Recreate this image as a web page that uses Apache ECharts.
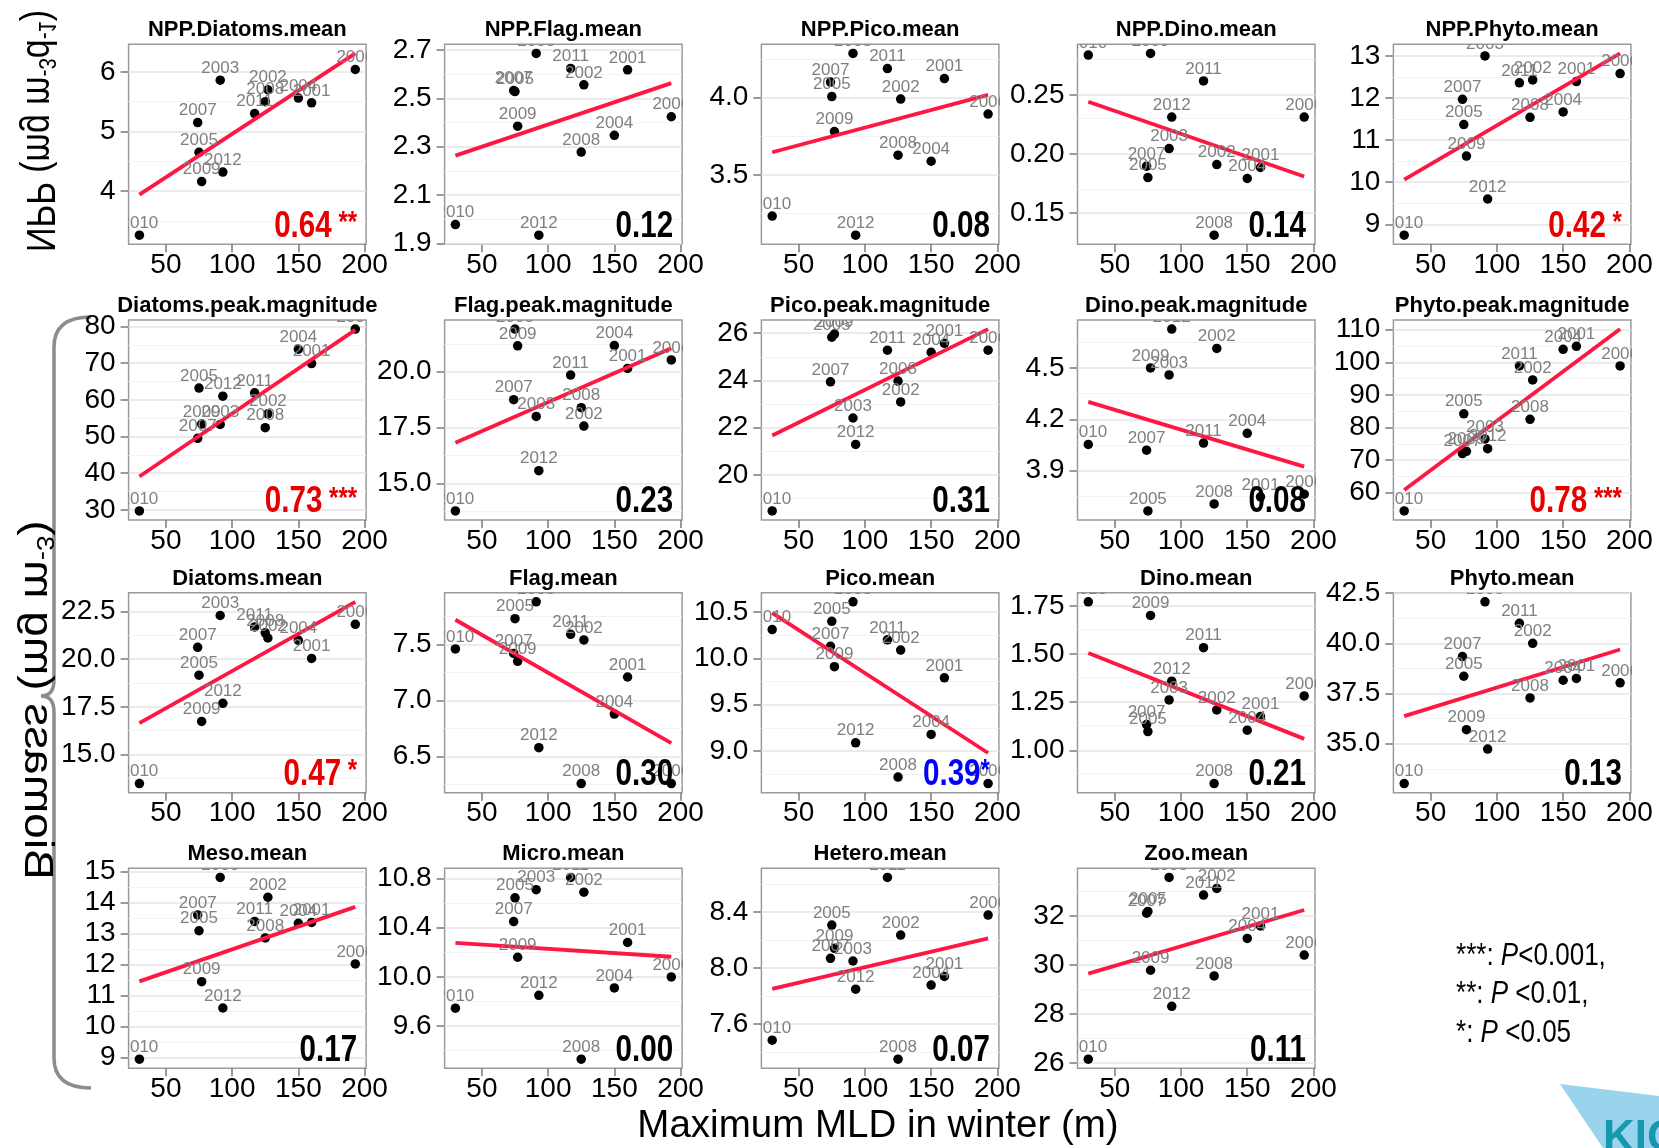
<!DOCTYPE html>
<html>
<head>
<meta charset="utf-8">
<script src="https://cdn.jsdelivr.net/npm/echarts@6/dist/echarts.min.js"></script>
<style>html,body{margin:0;padding:0;background:#fff}#c{width:1659px;height:1148px}</style>
</head>
<body>
<div id="c"></div>
<script>
// ---------- data ----------
const years = [2001, 2002, 2003, 2004, 2005, 2006, 2007, 2008, 2009, 2010, 2011, 2012];
const mld = [160, 127, 91, 150, 75, 193, 74, 125, 77, 30, 117, 93]; // Maximum MLD in winter (m)

const nppDiatomsMean = [5.48, 5.70, 5.86, 5.56, 4.65, 6.04, 5.15, 5.50, 4.16, 3.26, 5.30, 4.32];
const nppFlagMean    = [2.618, 2.556, 2.686, 2.347, 2.528, 2.424, 2.532, 2.278, 2.385, 1.978, 2.624, 1.934];
const nppPicoMean    = [4.122, 3.99, 4.285, 3.588, 4.006, 3.893, 4.10, 3.627, 3.78, 3.234, 4.187, 3.11];
const nppDinoMean    = [0.1885, 0.1910, 0.2045, 0.1792, 0.180, 0.2312, 0.1896, 0.1312, 0.2851, 0.2837, 0.2618, 0.2312];
const nppPhytoMean   = [12.39, 12.43, 13.0, 11.67, 11.37, 12.58, 11.97, 11.54, 10.62, 8.74, 12.36, 9.60];
const diatomsPeak    = [69.9, 56.2, 53.3, 73.8, 63.2, 79.3, 49.5, 52.4, 53.4, 29.7, 61.9, 61.0];
const flagPeak       = [20.15, 17.57, 18.0, 21.17, 21.91, 20.53, 18.75, 18.39, 21.16, 13.77, 19.85, 15.57];
const picoPeak       = [25.57, 23.09, 22.41, 25.19, 25.83, 25.28, 23.94, 23.97, 25.96, 18.48, 25.28, 21.29];
const dinoPeak       = [3.747, 4.614, 4.459, 4.118, 3.665, 3.763, 4.02, 3.706, 4.50, 4.053, 4.061, 4.727];
const phytoPeak      = [104.9, 94.6, 76.5, 104.0, 84.2, 98.9, 72.0, 82.5, 72.7, 54.4, 98.9, 73.5];
const diatomsMean    = [20.04, 21.11, 22.29, 20.99, 19.16, 21.83, 20.62, 21.38, 16.73, 13.47, 21.69, 17.68];
const flagMean       = [7.21, 7.54, 7.88, 6.88, 7.73, 6.26, 7.42, 6.26, 7.35, 7.46, 7.59, 6.58];
const picoMean       = [9.79, 10.09, 10.61, 9.18, 10.40, 8.65, 10.13, 8.72, 9.91, 10.31, 10.20, 9.09];
const dinoMean       = [1.176, 1.21, 1.262, 1.105, 1.098, 1.283, 1.134, 0.828, 1.70, 1.771, 1.533, 1.359];
const phytoMean      = [38.25, 40.0, 42.07, 38.16, 38.36, 38.03, 39.34, 37.28, 35.70, 33.01, 41.0, 34.73];
const mesoMean       = [13.36, 14.17, 14.81, 13.33, 13.09, 12.02, 13.6, 12.86, 11.45, 8.95, 13.39, 10.6];
const microMean      = [10.28, 10.69, 10.71, 9.91, 10.644, 10.0, 10.45, 9.33, 10.16, 9.745, 10.81, 9.85];
const heteroMean     = [7.94, 8.235, 8.05, 7.878, 8.307, 8.378, 8.069, 7.349, 8.141, 7.485, 8.647, 7.849];
const zooMean        = [31.59, 33.12, 33.57, 31.08, 32.18, 30.40, 32.11, 29.55, 29.78, 26.15, 32.85, 28.31];

const panelTitles = ['NPP.Diatoms.mean', 'NPP.Flag.mean', 'NPP.Pico.mean', 'NPP.Dino.mean', 'NPP.Phyto.mean',
  'Diatoms.peak.magnitude', 'Flag.peak.magnitude', 'Pico.peak.magnitude', 'Dino.peak.magnitude', 'Phyto.peak.magnitude',
  'Diatoms.mean', 'Flag.mean', 'Pico.mean', 'Dino.mean', 'Phyto.mean',
  'Meso.mean', 'Micro.mean', 'Hetero.mean', 'Zoo.mean'];
const panelValues = [nppDiatomsMean, nppFlagMean, nppPicoMean, nppDinoMean, nppPhytoMean,
  diatomsPeak, flagPeak, picoPeak, dinoPeak, phytoPeak,
  diatomsMean, flagMean, picoMean, dinoMean, phytoMean,
  mesoMean, microMean, heteroMean, zooMean];

// fitted line values at the smallest and largest MLD
const fitStart = [3.94, 2.263, 3.646, 0.2441, 10.06, 39.1, 16.82, 21.67, 4.302, 60.8, 16.64, 7.72, 10.49, 1.505, 36.37, 11.46, 10.277, 7.851, 29.64];
const fitEnd   = [6.31, 2.563, 4.017, 0.1809, 13.06, 79.1, 21.05, 26.17, 3.924, 110.2, 23.01, 6.62, 8.98, 1.06, 39.69, 13.86, 10.164, 8.211, 32.24];

const r2Values = ['0.64', '0.12', '0.08', '0.14', '0.42', '0.73', '0.23', '0.31', '0.08', '0.78', '0.47', '0.30', '0.39', '0.21', '0.13', '0.17', '0.00', '0.07', '0.11'];
const r2Stars  = ['**', '', '', '', '*', '***', '', '', '', '***', '*', '', '*', '', '', '', '', '', ''];
const r2Sign   = ['pos', 'ns', 'ns', 'ns', 'pos', 'pos', 'ns', 'ns', 'ns', 'pos', 'pos', 'ns', 'neg', 'ns', 'ns', 'ns', 'ns', 'ns', 'ns'];

const xTickValues = [50, 100, 150, 200];
const yTickLabels = [
  ['4', '5', '6'], ['1.9', '2.1', '2.3', '2.5', '2.7'], ['3.5', '4.0'], ['0.15', '0.20', '0.25'], ['9', '10', '11', '12', '13'],
  ['30', '40', '50', '60', '70', '80'], ['15.0', '17.5', '20.0'], ['20', '22', '24', '26'], ['3.9', '4.2', '4.5'], ['60', '70', '80', '90', '100', '110'],
  ['15.0', '17.5', '20.0', '22.5'], ['6.5', '7.0', '7.5'], ['9.0', '9.5', '10.0', '10.5'], ['1.00', '1.25', '1.50', '1.75'], ['35.0', '37.5', '40.0', '42.5'],
  ['9', '10', '11', '12', '13', '14', '15'], ['9.6', '10.0', '10.4', '10.8'], ['7.6', '8.0', '8.4'], ['26', '28', '30', '32']
];

// ---------- layout & style ----------
const FONT = '"Liberation Sans", Arial, Helvetica, sans-serif';
const colLeft = [128.6, 444.6, 761.4, 1077.5, 1393.4];
const rowTop = [44.3, 320, 592.7, 868.3];
const boxW = 237.5, boxH = 200;
const sigColor = { pos: '#e60000', neg: '#0000ff', ns: '#000000' };

const xLo = Math.min(...mld), xHi = Math.max(...mld), xPad = 0.05 * (xHi - xLo);

const option = {
  animation: false,
  backgroundColor: '#ffffff',
  title: [], grid: [], xAxis: [], yAxis: [], series: [], graphic: []
};

panelValues.forEach((vals, i) => {
  const r = Math.floor(i / 5), c = i % 5;
  const left = colLeft[c], top = rowTop[r];
  const allY = vals.concat([fitStart[i], fitEnd[i]]);
  const lo = Math.min(...allY), hi = Math.max(...allY), pad = 0.05 * (hi - lo);
  const yMin = lo - pad, yMax = hi + pad;
  const tickStr = yTickLabels[i];
  const tickNum = tickStr.map(Number);
  const step = tickNum[1] - tickNum[0];
  const minors = [];
  for (let k = -1; k < tickNum.length; k++) {
    const v = tickNum[0] + step * (k + 0.5);
    if (v > yMin && v < yMax) minors.push(v);
  }

  option.grid.push({ left: left, top: top, width: boxW, height: boxH, show: true,
    backgroundColor: '#ffffff', borderColor: '#9a9a9a', borderWidth: 1.5 });

  option.title.push({ text: panelTitles[i], left: left + boxW / 2, top: top - 25, textAlign: 'center', padding: 0,
    textStyle: { fontSize: 22, fontWeight: 'bold', color: '#000', fontFamily: FONT } });

  option.xAxis.push({ type: 'value', gridIndex: i, min: xLo - xPad, max: xHi + xPad,
    axisLine: { show: false }, splitLine: { show: false },
    axisTick: { show: true, inside: false, length: 8, customValues: xTickValues, lineStyle: { color: '#7a7a7a', width: 1.5 } },
    axisLabel: { customValues: xTickValues, fontSize: 28, color: '#000', margin: 7, fontFamily: FONT } });

  option.yAxis.push({ type: 'value', gridIndex: i, min: yMin, max: yMax,
    axisLine: { show: false }, splitLine: { show: false },
    axisTick: { show: true, inside: false, length: 8, customValues: tickNum, lineStyle: { color: '#7a7a7a', width: 1.5 } },
    axisLabel: { customValues: tickNum, fontSize: 28, color: '#000', margin: 13, fontFamily: FONT,
      formatter: v => { const s = tickStr.find(t => Math.abs(Number(t) - v) < 1e-9); return s !== undefined ? s : String(v); } } });

  // points
  option.series.push({ type: 'scatter', xAxisIndex: i, yAxisIndex: i, silent: true, z: 3,
    symbol: 'circle', symbolSize: 9.5, itemStyle: { color: '#000', opacity: 1 },
    data: mld.map((x, j) => [x, vals[j]]) });

  // fitted line + grid lines
  option.series.push({ type: 'line', xAxisIndex: i, yAxisIndex: i, silent: true, z: 4,
    symbol: 'none', showSymbol: false, lineStyle: { color: '#ff1744', width: 3.8 },
    data: [[xLo, fitStart[i]], [xHi, fitEnd[i]]],
    markLine: { silent: true, symbol: 'none', z: 1, animation: false, label: { show: false },
      data: tickNum.map(v => ({ yAxis: v, lineStyle: { color: '#e4e4e4', width: 1.6, type: 'solid' } }))
        .concat(minors.map(v => ({ yAxis: v, lineStyle: { color: '#f2f2f2', width: 1, type: 'solid' } }))) } });

  // year labels (clipped to the panel)
  option.series.push({ type: 'custom', xAxisIndex: i, yAxisIndex: i, silent: true, z: 5, clip: true,
    data: mld.map((x, j) => [x, vals[j], j]),
    renderItem: (params, api) => {
      const pt = api.coord([api.value(0), api.value(1)]);
      return { type: 'text', x: pt[0], y: pt[1] - 12,
        style: { text: String(years[api.value(2)]), fill: '#808080', fontSize: 17, fontFamily: FONT, align: 'center', verticalAlign: 'middle' } };
    } });

  // R2 annotation (condensed bold look)
  const col = sigColor[r2Sign[i]];
  const stars = r2Stars[i];
  const txt = '{v|' + r2Values[i] + '}' + (stars ? '{s|' + (r2Sign[i] === 'neg' ? '' : ' ') + stars + '}' : '');
  option.graphic.push({ type: 'text', x: left + boxW - 9, y: top + boxH - 18, scaleX: 0.8, z: 100, silent: true,
    style: { text: txt, align: 'right', verticalAlign: 'middle',
      rich: { v: { fontSize: 37, fontWeight: 'bold', fontFamily: FONT, fill: col },
              s: { fontSize: 30, fontWeight: 'bold', fontFamily: FONT, fill: col, verticalAlign: 'top' } } } });
});

// axis titles (mirrored, as in the figure)
option.graphic.push({ type: 'text', x: 38, y: 131, rotation: Math.PI / 2, scaleX: 0.85, scaleY: -1, z: 100, silent: true,
  style: { text: '{a|NPP (mg m}{s|-3}{a|d}{s|-1}{a|)}', align: 'center', verticalAlign: 'middle',
    rich: { a: { fontSize: 40, fontFamily: FONT, fill: '#000' }, s: { fontSize: 24, fontFamily: FONT, fill: '#000', verticalAlign: 'top' } } } });
option.graphic.push({ type: 'text', x: 36, y: 700, rotation: Math.PI / 2, scaleX: 1.15, scaleY: -1, z: 100, silent: true,
  style: { text: '{a|Biomass (mg m}{s|-3}{a|)}', align: 'center', verticalAlign: 'middle',
    rich: { a: { fontSize: 40, fontFamily: FONT, fill: '#000' }, s: { fontSize: 24, fontFamily: FONT, fill: '#000', verticalAlign: 'top' } } } });

// curly brace grouping the biomass rows
const braceStyle = { fill: 'none', stroke: '#8c8c8c', lineWidth: 3.5 };
option.graphic.push({ type: 'group', z: 90, silent: true, children: [
  { type: 'bezierCurve', shape: { x1: 91, y1: 317, cpx1: 54, cpy1: 317, x2: 54, y2: 347 }, style: braceStyle },
  { type: 'line', shape: { x1: 54, y1: 347, x2: 54, y2: 680 }, style: braceStyle },
  { type: 'bezierCurve', shape: { x1: 54, y1: 680, cpx1: 54, cpy1: 696, x2: 41, y2: 696 }, style: braceStyle },
  { type: 'bezierCurve', shape: { x1: 41, y1: 696, cpx1: 54, cpy1: 696, x2: 54, y2: 712 }, style: braceStyle },
  { type: 'line', shape: { x1: 54, y1: 712, x2: 54, y2: 1058 }, style: braceStyle },
  { type: 'bezierCurve', shape: { x1: 54, y1: 1058, cpx1: 54, cpy1: 1088, x2: 91, y2: 1088 }, style: braceStyle }
] });

option.graphic.push({ type: 'text', x: 878, y: 1126, z: 100, silent: true,
  style: { text: 'Maximum MLD in winter (m)', fontSize: 38.5, fontFamily: FONT, fill: '#000', align: 'center', verticalAlign: 'middle' } });

// significance legend
const legendLines = ['{n|***: }{i|P}{n|<0.001,}', '{n|**: }{i|P}{n| <0.01,}', '{n|*: }{i|P}{n| <0.05}'];
legendLines.forEach((t, k) => {
  option.graphic.push({ type: 'text', x: 1456, y: 956 + k * 38.5, scaleX: 0.84, z: 100, silent: true,
    style: { text: t, align: 'left', verticalAlign: 'middle',
      rich: { n: { fontSize: 31, fontFamily: FONT, fill: '#000' }, i: { fontSize: 31, fontFamily: FONT, fontStyle: 'italic', fill: '#000' } } } });
});

// partial logo in the corner
option.graphic.push({ type: 'polygon', z: 80, silent: true,
  shape: { points: [[1560, 1084], [1659, 1096], [1659, 1148], [1603, 1148]] },
  style: { fill: 'rgba(120,196,230,0.75)' } });
option.graphic.push({ type: 'text', x: 1603, y: 1117, z: 100, silent: true,
  style: { text: 'KIOST', fontSize: 44, fontWeight: 'bold', fontFamily: FONT, fill: '#1797b0', align: 'left', verticalAlign: 'top' } });

const chart = echarts.init(document.getElementById('c'), null, { renderer: 'canvas', width: 1659, height: 1148 });
chart.setOption(option);
</script>
</body>
</html>
